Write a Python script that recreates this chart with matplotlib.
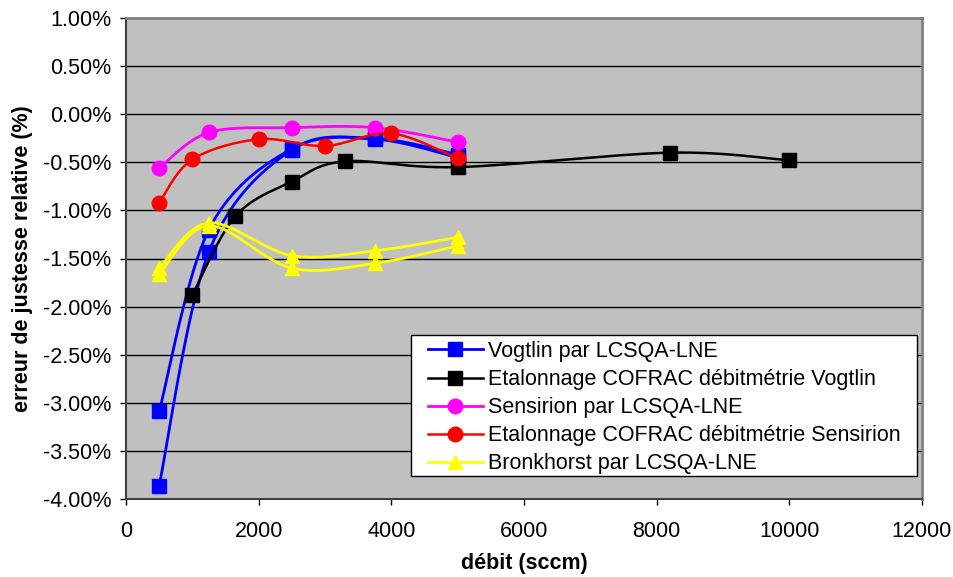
import numpy as np
import matplotlib
matplotlib.use("Agg")
import matplotlib.pyplot as plt
from matplotlib.ticker import FuncFormatter
from matplotlib.patches import Rectangle

plt.rcParams['font.family'] = ['Liberation Sans', 'DejaVu Sans']

# ---- data (relative error in %) ----
vog_x = [500, 1250, 2500, 3750, 5000]
vog_a = [-3.09, -1.20, -0.36, -0.25, -0.42]
vog_b = [-3.86, -1.43, -0.37, -0.26, -0.45]

cofv_x = [1000, 1650, 2500, 3300, 5000, 8200, 10000]
cofv_y = [-1.88, -1.06, -0.70, -0.49, -0.55, -0.40, -0.48]

sen_x = [500, 1250, 2500, 3750, 5000]
sen_y = [-0.56, -0.19, -0.14, -0.14, -0.29]

cofs_x = [500, 1000, 2000, 3000, 4000, 5000]
cofs_y = [-0.92, -0.47, -0.26, -0.33, -0.20, -0.46]

bro_x = [500, 1250, 2500, 3750, 5000]
bro_a = [-1.60, -1.13, -1.47, -1.42, -1.28]
bro_b = [-1.66, -1.16, -1.60, -1.55, -1.37]

labels = ["Vogtlin par LCSQA-LNE",
          "Etalonnage COFRAC débitmétrie Vogtlin",
          "Sensirion par LCSQA-LNE",
          "Etalonnage COFRAC débitmétrie Sensirion",
          "Bronkhorst par LCSQA-LNE"]

FS = 15.5


def smooth(x, y, n=30):
    """Excel-like smoothed line (Catmull-Rom Bezier) through the points."""
    x = np.asarray(x, float)
    y = np.asarray(y, float)
    sx, sy = 12000.0 / 796.0, 5.0 / 481.0
    P = np.column_stack([x / sx, y / sy])
    out = [P[0]]
    t = np.linspace(0, 1, n)[1:]
    for i in range(len(P) - 1):
        p0 = P[i - 1] if i > 0 else P[i]
        p1 = P[i]
        p2 = P[i + 1]
        p3 = P[i + 2] if i + 2 < len(P) else P[i + 1]
        c1 = p1 + (p2 - p0) / 6.0
        c2 = p2 - (p3 - p1) / 6.0
        for tt in t:
            b = ((1 - tt) ** 3) * p1 + 3 * ((1 - tt) ** 2) * tt * c1 + \
                3 * (1 - tt) * tt ** 2 * c2 + tt ** 3 * p2
            out.append(b)
    out = np.array(out)
    return out[:, 0] * sx, out[:, 1] * sy


W, H = 954, 577
fig = plt.figure(figsize=(W / 100, H / 100), dpi=100)
ax = fig.add_axes([126 / W, 78 / H, 796 / W, 481 / H])
ax.set_facecolor('#C0C0C0')

series = [
    (vog_x, vog_a, 'blue', 's', labels[0], 2.0),
    (vog_x, vog_b, 'blue', 's', '_nolegend_', 2.0),
    (cofv_x, cofv_y, 'black', 's', labels[1], 1.8),
    (sen_x, sen_y, '#FF00FF', 'o', labels[2], 2.0),
    (cofs_x, cofs_y, 'red', 'o', labels[3], 1.8),
    (bro_x, bro_a, 'yellow', '^', labels[4], 2.0),
    (bro_x, bro_b, 'yellow', '^', '_nolegend_', 2.0),
]

handles = []
for i, (xs, ys, c, m, lab, lw) in enumerate(series):
    cx, cy = smooth(xs, ys)
    ax.plot(cx, cy, color=c, lw=lw, zorder=3 + i, solid_capstyle='round')
    ax.plot(xs, ys, linestyle='none', marker=m, color=c, markersize=10.5,
            markeredgecolor=c, zorder=3 + i)
    if lab != '_nolegend_':
        h, = ax.plot([], [], color=c, lw=lw, marker=m, markersize=10.5,
                     markeredgecolor=c, label=lab)
        handles.append(h)

ax.set_xlim(0, 12000)
ax.set_ylim(-4.0, 1.0)
ax.set_xticks(np.arange(0, 12001, 2000))
ax.set_yticks(np.arange(-4.0, 1.01, 0.5))
ax.yaxis.set_major_formatter(FuncFormatter(lambda v, p: f"{v:.2f}%"))
ax.grid(axis='y', color='black', lw=1.0, zorder=1)
ax.set_axisbelow(True)

for s in ['top', 'right']:
    ax.spines[s].set_color('#808080')
    ax.spines[s].set_linewidth(2)
for s in ['left', 'bottom']:
    ax.spines[s].set_color('#404040')
    ax.spines[s].set_linewidth(1.5)

ax.tick_params(axis='both', direction='out', length=4.5, width=1,
               color='black', labelsize=FS)
ax.tick_params(axis='y', pad=6)
ax.tick_params(axis='x', pad=11)

ax.set_xlabel('débit (sccm)', fontsize=FS, fontweight='bold', labelpad=8)
ax.set_ylabel('erreur de justesse relative (%)', fontsize=FS,
              fontweight='bold', labelpad=7)


def ax_x(px):
    return (px - 126) / 796


def ax_y(py):
    return (499 - py) / 481


box = Rectangle((ax_x(411), ax_y(476)), ax_x(917) - ax_x(411),
                ax_y(335) - ax_y(476), transform=ax.transAxes,
                facecolor='white', edgecolor='black', lw=1.0, zorder=19)
ax.add_patch(box)

leg = ax.legend(handles=handles, loc='upper left',
                bbox_to_anchor=(ax_x(428), ax_y(341)),
                fontsize=FS, frameon=False,
                handlelength=2.55, handletextpad=0.25, borderpad=0,
                labelspacing=0.33, borderaxespad=0)
leg.set_zorder(20)

fig.savefig('out.png', dpi=100)
